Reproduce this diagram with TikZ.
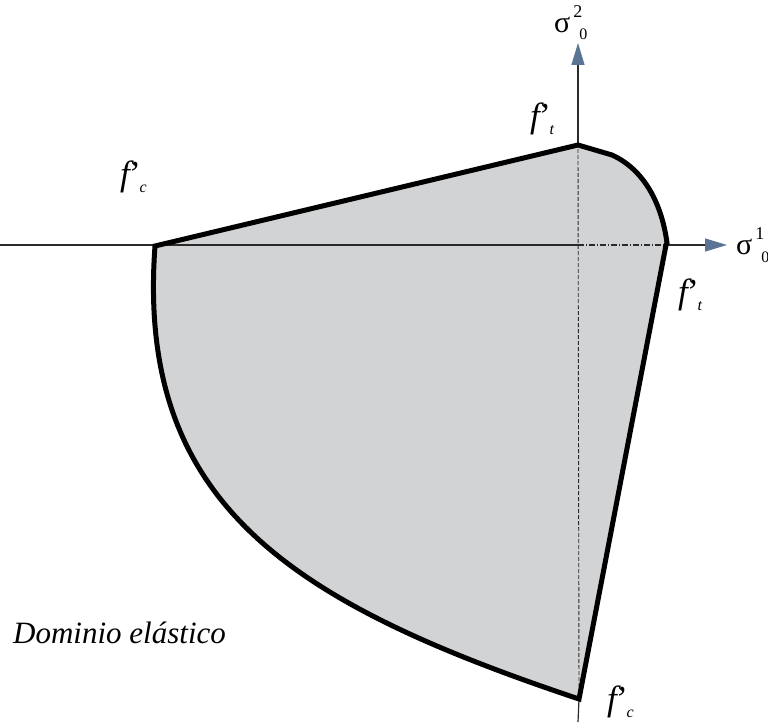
\documentclass[tikz,border=0pt]{standalone}
\usepackage{fontspec}
\setmainfont{Liberation Serif}
\usetikzlibrary{arrows.meta}
\definecolor{regionfill}{HTML}{D1D3D4}
\definecolor{arrowblue}{HTML}{5B7496}
\definecolor{axisgray}{HTML}{2A2A2A}
\newcommand{\fpr}[1]{{\fontsize{35}{35}\selectfont\itshape f\kern-3pt’}\kern1pt\raisebox{-7pt}{\fontsize{16}{16}\selectfont\itshape #1}}
\newcommand{\sigl}[2]{{\fontsize{30}{30}\selectfont σ}\kern3pt\rlap{\raisebox{15pt}{\fontsize{18}{18}\selectfont #1}}\kern6pt\raisebox{-7pt}{\fontsize{16}{16}\selectfont #2}}
\tikzset{
  axisline/.style={draw=axisgray, line width=1.2pt},
  axisarrow/.style={axisline, -{Triangle[length=22pt,width=13pt,fill=arrowblue,color=arrowblue]}},
  region/.style={draw=black, line width=5pt, line join=miter},
  lbl/.style={inner sep=0pt, anchor=base west}
}
\begin{document}
\begin{tikzpicture}[x=1pt,y=-1pt]
\useasboundingbox (0,0) rectangle (768,727);
% key points
\coordinate (O) at (578,245);
\coordinate (T) at (578,145);
\coordinate (R) at (666,245);
\coordinate (B) at (579,699);
\coordinate (L) at (155,246);
\coordinate (xa) at (0,245);
\coordinate (xt) at (727,245);
\coordinate (yb) at (578,722);
\coordinate (yt) at (578,43);
% region fill
\fill[regionfill] (L) -- (T) -- (612,155) .. controls (645,170) and (662,205) .. (667,243) -- (R) -- (B)
  .. controls (292,603) and (136,505) .. (L) -- cycle;
% axes
\draw[axisline] (xa) -- (O);
\draw[axisline, dash pattern=on 6pt off 2pt on 1pt off 2pt] (O) -- (R);
\draw[axisarrow] (R) -- (xt);
\draw[axisline] (yb) -- (B);
\draw[axisline, line width=0.9pt, dash pattern=on 4pt off 2pt] (B) -- (T);
\draw[axisarrow] (T) -- (yt);
% region outline
\draw[region] (L) -- (T) -- (612,155) .. controls (645,170) and (662,205) .. (667,243) -- (R) -- (B)
  .. controls (292,603) and (136,505) .. (L) -- cycle;
% labels
\node[lbl] (s2) at (554,33) {\sigl{2}{0}};
\node[lbl] (s1) at (736,255) {\sigl{1}{0}};
\node[lbl] (ftt) at (530,128) {\fpr{t}};
\node[lbl] (ftr) at (678,303) {\fpr{t}};
\node[lbl] (fcl) at (120,186) {\fpr{c}};
\node[lbl] (fcb) at (607,710) {\fpr{c}};
\node[lbl] (dom) at (13,643) {\fontsize{31}{31}\selectfont\itshape Dominio elástico};
\end{tikzpicture}
\end{document}
